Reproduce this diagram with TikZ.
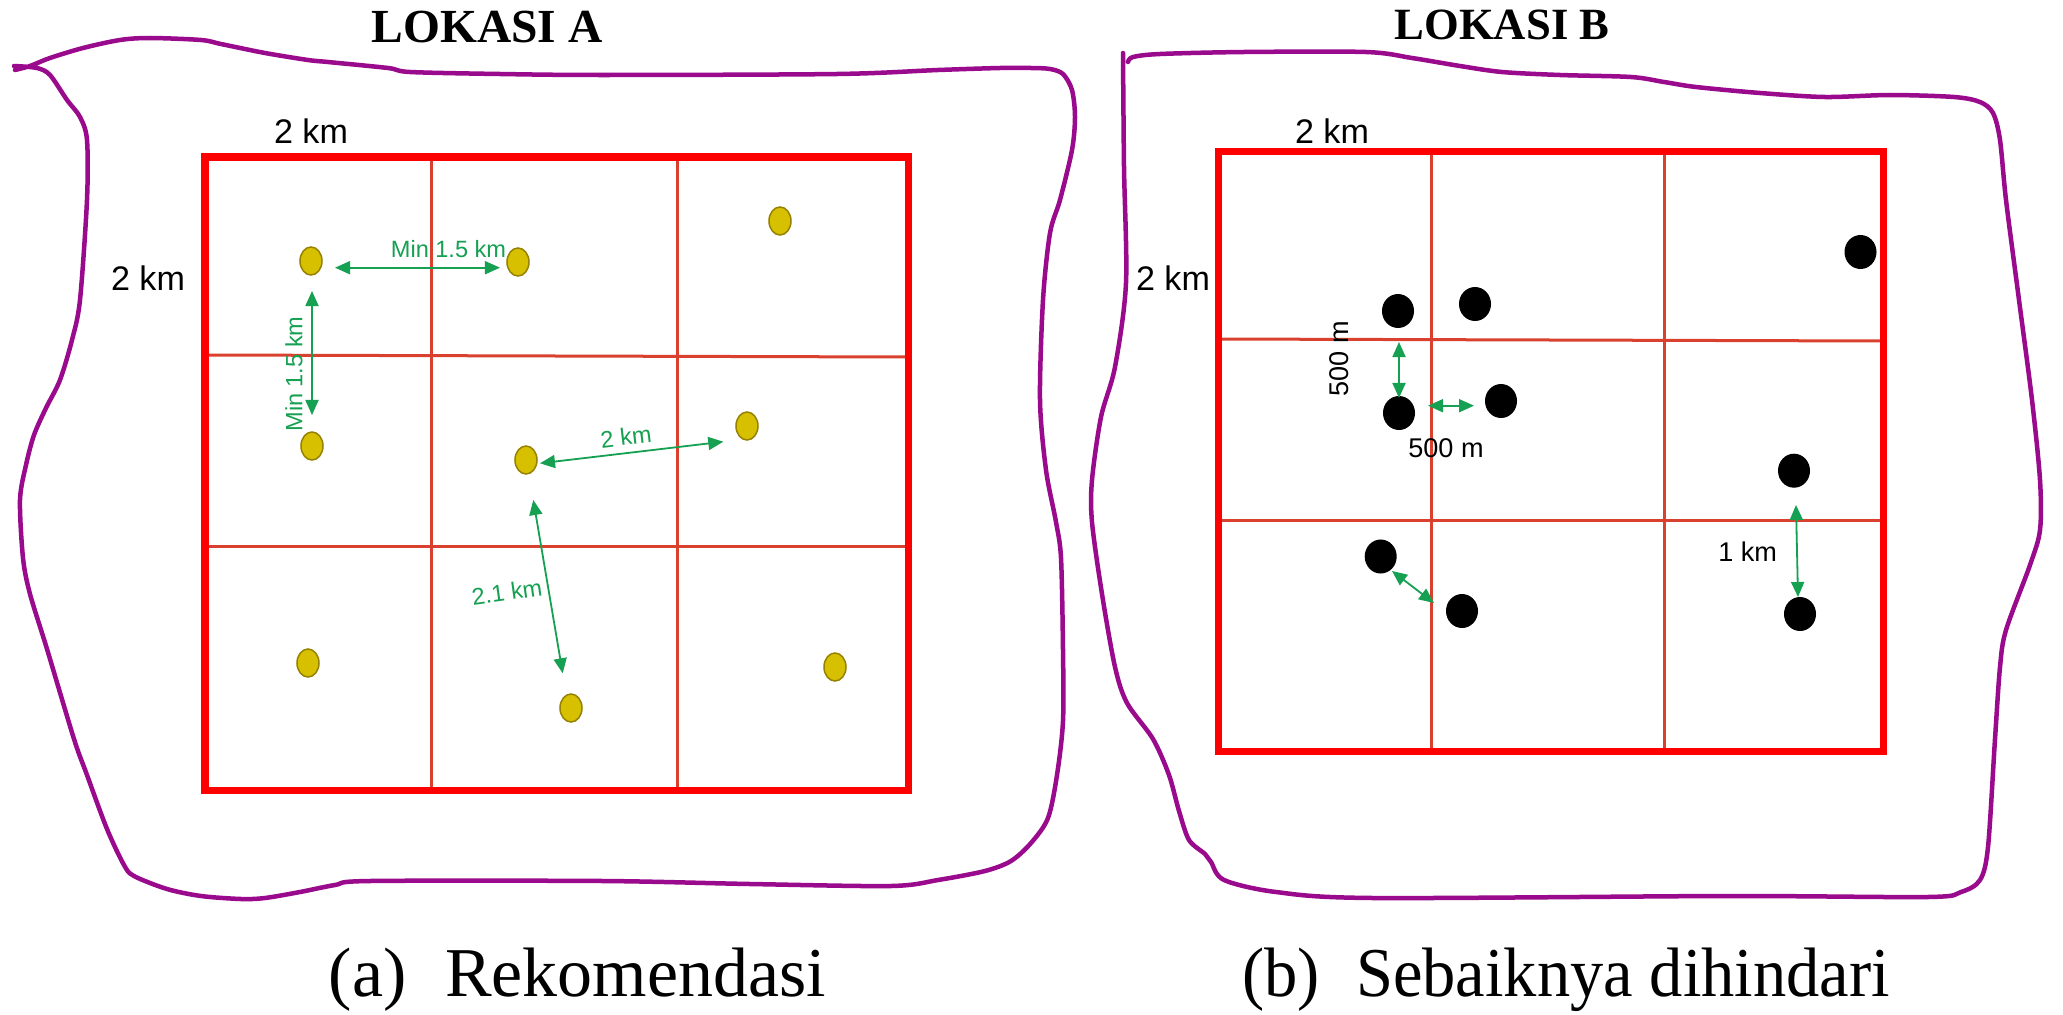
\documentclass[tikz,border=0pt]{standalone}
\usepackage{fontspec}
\setmainfont{Liberation Serif}
\newfontfamily\lsans{Liberation Sans}
\usetikzlibrary{arrows.meta,shapes.geometric}
\definecolor{blobc}{RGB}{153,10,140}
\definecolor{boxred}{RGB}{255,0,0}
\definecolor{gridred}{RGB}{217,65,46}
\definecolor{arrgreen}{RGB}{22,160,82}
\definecolor{dotfill}{RGB}{214,192,0}
\definecolor{dotline}{RGB}{150,130,0}
\begin{document}
\begin{tikzpicture}[x=0.01cm,y=-0.01cm,
  blob/.style={draw=blobc, line width=0.045cm, line cap=round, line join=round},
  frame/.style={draw=boxred, line width=0.07cm},
  gridline/.style={draw=gridred, line width=0.03cm},
  ydot/.style={shape=ellipse, fill=dotfill, draw=dotline, line width=0.015cm, minimum width=0.22cm, minimum height=0.28cm, inner sep=0},
  bdot/.style={shape=ellipse, fill=black, minimum width=0.32cm, minimum height=0.34cm, inner sep=0},
  garrow/.style={draw=arrgreen, line width=0.018cm, {Triangle[length=0.15cm,width=0.13cm]}-{Triangle[length=0.15cm,width=0.13cm]}},
  glabel/.style={text=arrgreen, font=\lsans\fontsize{6.7}{8}\selectfont, inner sep=0},
  blabel/.style={font=\lsans\fontsize{9.7}{11}\selectfont, inner sep=0},
  slabel/.style={font=\lsans\fontsize{7.7}{9}\selectfont, inner sep=0},
  title/.style={font=\bfseries, inner sep=0, anchor=base},
  caption/.style={font=\fontsize{19.9}{24}\selectfont, inner sep=0, anchor=base}
]
\useasboundingbox (0,0) rectangle (2063,1015);
\fill[white] (0,0) rectangle (2063,1015);

% ---------- outlines ----------
\draw[blob] plot[smooth, tension=0.5] coordinates {
  (15,70) (30,66) (50,58) (83,48) (120,40) (150,38) (201,40) (221,44) (265,53) (308,60) (328,62) (388,68) (410,72) (500,74) (603,75) (837,74) (938,70) (1000,68) (1031,68) (1050,69) (1063,74) (1072,90) (1075,117) (1072,150) (1060,200) (1050,233) (1043,300) (1040,400) (1046,470) (1056,522) (1061,558) (1063,650) (1063,721) (1057,775) (1048,818) (1031,843) (1011,861) (985,871) (938,880) (891,886) (750,884) (603,881) (370,881) (335,885) (300,892) (265,898) (241,899) (201,896) (167,889) (134,876) (124,865) (107,829) (87,775) (74,739) (47,649) (30,594) (23,558) (20,500) (26,465) (34,435) (46,408) (60,380) (72,340) (80,300) (87,200) (87,140) (80,117) (67,100) (50,75) (37,68) (14,66)};
\draw[blob] plot[smooth, tension=0.5] coordinates {
  (1128,62) (1133,57) (1160,54) (1244,52) (1366,52) (1412,58) (1460,66) (1502,72) (1560,75) (1631,77) (1664,82) (1696,87) (1760,93) (1825,97) (1890,95) (1954,97) (1980,102) (1993,113) (2000,140) (2006,200) (2019,300) (2032,400) (2040,480) (2040,530) (2030,565) (2006,630) (2000,667) (1995,739) (1988,847) (1980,880) (1961,892) (1928,897) (1728,896) (1373,898) (1276,892) (1224,880) (1211,862) (1205,854) (1189,840) (1179,811) (1169,775) (1153,739) (1127,703) (1115,667) (1102,594) (1092,522) (1092,480) (1101,417) (1115,367) (1126,283) (1124,167) (1123,53)};

% ---------- grids ----------
\draw[gridline] (205,355) -- (908,357);
\draw[gridline] (205,546) -- (908,546);
\draw[gridline] (431.7,157) -- (431.7,790);
\draw[gridline] (677,157) -- (677,790);
\draw[frame] (205,157) rectangle (908,790);

\draw[gridline] (1218,339) -- (1883,341);
\draw[gridline] (1218,520) -- (1883,520);
\draw[gridline] (1431.5,151.5) -- (1431.5,751.5);
\draw[gridline] (1664,151.5) -- (1664,751.5);
\draw[frame] (1218,151.5) rectangle (1883,751.5);

% ---------- titles and captions ----------
\node[title, font=\bfseries\fontsize{13.5}{16}\selectfont] (tA) at (487,42) {LOKASI A};
\node[title, font=\bfseries\fontsize{12.7}{15}\selectfont] (tB) at (1502,39) {LOKASI B};
\node[caption] (capA) at (577.5,996) {(a)\hspace{0.55em}Rekomendasi};
\node[caption, xscale=0.95] (capB) at (1566,996) {(b)\hspace{0.55em}Sebaiknya dihindari};

% ---------- dimension labels ----------
\node[blabel] (kmAt) at (311,131) {2 km};
\node[blabel] (kmAl) at (148,278) {2 km};
\node[blabel] (kmBt) at (1332,131.5) {2 km};
\node[blabel] (kmBl) at (1173,278.5) {2 km};

% ---------- yellow dots ----------
\node[ydot] (y1) at (311,261) {};
\node[ydot] (y2) at (518,262) {};
\node[ydot] (y3) at (780,221) {};
\node[ydot] (y4) at (312,446) {};
\node[ydot] (y5) at (526,460) {};
\node[ydot] (y6) at (747,426) {};
\node[ydot] (y7) at (308,663) {};
\node[ydot] (y8) at (571,708) {};
\node[ydot] (y9) at (835,667) {};

% ---------- black dots ----------
\node[bdot] (b1) at (1398,311) {};
\node[bdot] (b2) at (1475,304) {};
\node[bdot] (b3) at (1860.5,252) {};
\node[bdot] (b4) at (1399,413) {};
\node[bdot] (b5) at (1501,401) {};
\node[bdot] (b6) at (1794,470.7) {};
\node[bdot] (b7) at (1380.7,556.5) {};
\node[bdot] (b8) at (1462,611) {};
\node[bdot] (b9) at (1800,614) {};

% ---------- arrow end points ----------
\coordinate (a1s) at (335,267.7);  \coordinate (a1e) at (500,267.7);
\coordinate (a2s) at (312,291);    \coordinate (a2e) at (312,415);
\coordinate (a3s) at (540,463.3);  \coordinate (a3e) at (723.3,441.7);
\coordinate (a4s) at (533.3,500);  \coordinate (a4e) at (562.7,673.3);
\coordinate (c1s) at (1399,342);   \coordinate (c1e) at (1399,398);
\coordinate (c2s) at (1428,405.7); \coordinate (c2e) at (1474,405.7);
\coordinate (c3s) at (1392,571);   \coordinate (c3e) at (1434,603);
\coordinate (c4s) at (1796,505);   \coordinate (c4e) at (1798,597);

\draw[garrow] (a1s) -- (a1e);
\draw[garrow] (a2s) -- (a2e);
\draw[garrow] (a3s) -- (a3e);
\draw[garrow] (a4s) -- (a4e);
\draw[garrow] (c1s) -- (c1e);
\draw[garrow] (c2s) -- (c2e);
\draw[garrow] (c3s) -- (c3e);
\draw[garrow] (c4s) -- (c4e);

% ---------- arrow labels ----------
\node[glabel] (l1) at (448.5,249.5) {Min 1.5 km};
\node[glabel, rotate=90] (l2) at (294,374) {Min 1.5 km};
\node[glabel, rotate=6.8] (l3) at (626,436.5) {2 km};
\node[glabel, rotate=8] (l4) at (507,592) {2.1 km};
\node[slabel, rotate=90] (m1) at (1339,359) {500 m};
\node[slabel] (m2) at (1446,448) {500 m};
\node[slabel] (m3) at (1747.6,552) {1 km};
\end{tikzpicture}
\end{document}
